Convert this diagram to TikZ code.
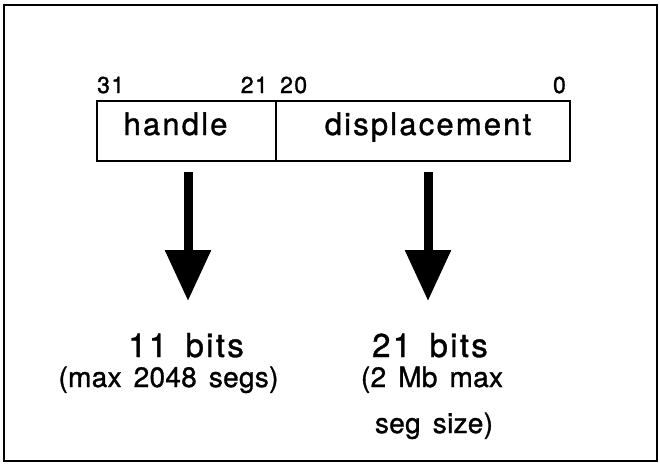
\documentclass[tikz,border=0pt]{standalone}
\usepackage{fontspec}
\setmainfont{TeX Gyre Heros}[FakeBold=1.1,WordSpace=1.6]
\newfontfamily\widefont{TeX Gyre Heros}[FakeBold=1.1,LetterSpace=7,WordSpace=1.6]
\newfontfamily\tightfont{TeX Gyre Heros}[FakeBold=1.1,LetterSpace=1,WordSpace=1.5]
\newfontfamily\numfont{TeX Gyre Heros}[FakeBold=1.3,LetterSpace=6]
\usetikzlibrary{arrows.meta}
\begin{document}
\begin{tikzpicture}[x=1pt,y=-1pt,
  frame/.style={line width=2pt},
  field/.style={draw,line width=1.4pt,minimum height=60pt,inner sep=0pt},
  bitno/.style={font=\numfont\fontsize{23}{23}\selectfont,inner sep=0pt},
  fieldtxt/.style={font=\widefont\fontsize{31}{31}\selectfont,inner sep=0pt},
  bigtxt/.style={font=\widefont\fontsize{33}{33}\selectfont,inner sep=0pt},
  smalltxt/.style={font=\tightfont\fontsize{28}{30}\selectfont,inner sep=0pt},
  fatarrow/.style={line width=9pt,-{Triangle[width=44pt,length=51pt]}}]
\useasboundingbox (0,0) rectangle (660,467);
\draw[frame] (4,5) rectangle (657,461);

% the two fields of the address word
\node[field,minimum width=179pt] (handle) at (186.5,131) {};
\node[field,minimum width=294pt] (disp) at (423,131) {};
\node[fieldtxt,anchor=base] (htxt) at (175.5,135) {handle};
\node[fieldtxt,anchor=base] (dtxt) at (428,135) {displacement};

% bit numbers
\node[bitno,anchor=base west] (b31) at (97,93) {31};
\node[bitno,anchor=base east] (b21) at (268,93) {21};
\node[bitno,anchor=base west] (b20) at (280,93) {20};
\node[bitno,anchor=base east] (b0) at (566,93) {0};

% arrows down to the sizes
\coordinate (ha) at (188,172);
\coordinate (hb) at (188,301);
\coordinate (da) at (428,172);
\coordinate (db) at (428,301);
\draw[fatarrow] (ha) -- (hb);
\draw[fatarrow] (da) -- (db);

% sizes
\node[bigtxt,anchor=base] (hbits) at (186,357) {11 bits};
\node[smalltxt,anchor=base] (hmax) at (168.5,387) {(max 2048 segs)};
\node[bigtxt,anchor=base] (dbits) at (430,357) {21 bits};
\node[smalltxt,anchor=base] (dmax1) at (432,387) {(2 Mb max};
\node[smalltxt,anchor=base] (dmax2) at (434,433) {seg size)};
\end{tikzpicture}
\end{document}
